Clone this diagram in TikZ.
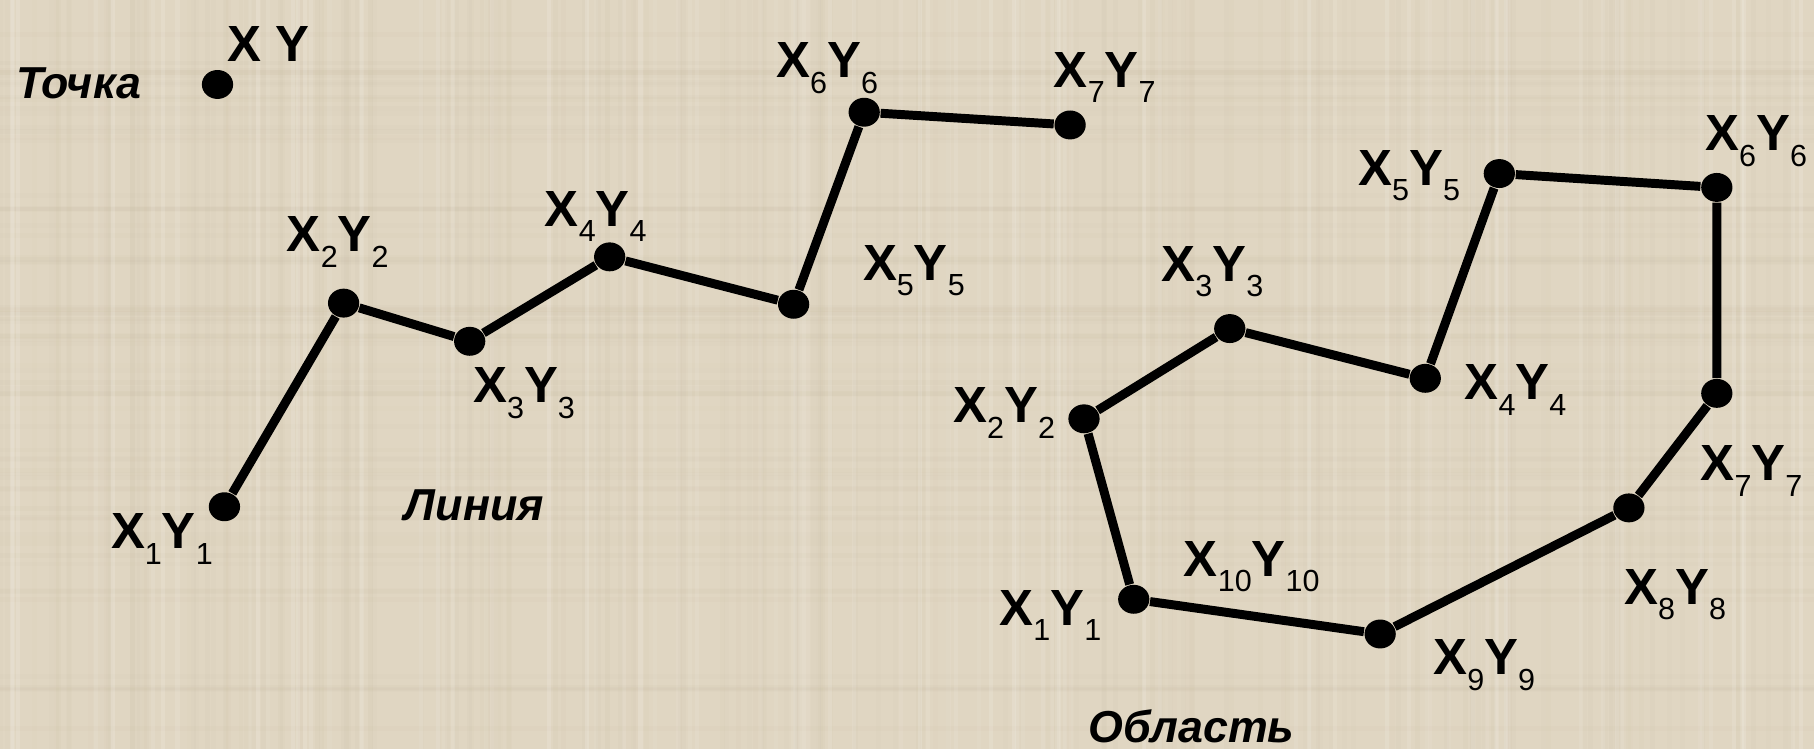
\documentclass[tikz,border=0pt]{standalone}
\usepackage{fontspec}
\usetikzlibrary{shapes.geometric}
\setmainfont{Liberation Sans}
\newcommand{\sbx}[1]{\raisebox{-3.8pt}{\fontsize{7.5}{8}\selectfont\mdseries #1}}
\newcommand{\pxy}[1]{X\sbx{#1}Y\sbx{#1}}
\definecolor{linen}{RGB}{224,214,194}
\definecolor{linendark}{RGB}{196,184,158}
\begin{document}
\begin{tikzpicture}[x=0.01cm,y=-0.01cm,
  dot/.style={ellipse,fill=black,inner sep=0pt,minimum width=0.27cm,minimum height=0.25cm},
  lab/.style={font=\fontsize{12.5}{14}\selectfont\bfseries,inner sep=0pt},
  captxt/.style={font=\fontsize{11}{13}\selectfont\bfseries\itshape,inner sep=0pt},
  segline/.style={line width=2.2pt,line join=round}]
\fill[linen] (0,0) rectangle (1568,647);
\useasboundingbox (0,0) rectangle (1568,647);
\pgfmathsetseed{7}
\foreach \i in {1,...,160}{
  \pgfmathsetmacro{\xx}{rnd*1568}
  \pgfmathsetmacro{\op}{0.03+rnd*0.06}
  \draw[linendark,opacity=\op,line width=1.2pt] (\xx,0) -- (\xx,647);
}
\foreach \i in {1,...,70}{
  \pgfmathsetmacro{\yy}{rnd*647}
  \pgfmathsetmacro{\op}{0.03+rnd*0.06}
  \draw[linendark,opacity=\op,line width=1.2pt] (0,\yy) -- (1568,\yy);
}
\foreach \i in {1,...,90}{
  \pgfmathsetmacro{\xx}{rnd*1568}
  \pgfmathsetmacro{\op}{0.05+rnd*0.1}
  \draw[white,opacity=\op,line width=1pt] (\xx,0) -- (\xx,647);
}

% Point
\node[dot] (p) at (188,73) {};
\node[lab] (plab) at (232,38) {X Y};
\node[captxt] (tochka) at (68,72) {Точка};

% Line
\node[dot] (l1) at (194,438) {};
\node[dot] (l2) at (297,262) {};
\node[dot] (l3) at (406,295) {};
\node[dot] (l4) at (527,222) {};
\node[dot] (l5) at (686,263) {};
\node[dot] (l6) at (747,97) {};
\node[dot] (l7) at (925,108) {};
\node[lab] (l1lab) at (140,466) {\pxy{1}};
\node[lab] (l2lab) at (292,209) {\pxy{2}};
\node[lab] (l3lab) at (453,340) {\pxy{3}};
\node[lab] (l4lab) at (515,187) {\pxy{4}};
\node[lab] (l5lab) at (790,234) {\pxy{5}};
\node[lab] (l6lab) at (715,59) {\pxy{6}};
\node[lab] (l7lab) at (955,67) {\pxy{7}};
\node[captxt] (linia) at (410,437) {Линия};
\draw[segline] (l1) -- (l2) -- (l3) -- (l4) -- (l5) -- (l6) -- (l7);

% Area
\node[dot] (r1) at (980,518) {};
\node[dot] (r2) at (937,362) {};
\node[dot] (r3) at (1063,284) {};
\node[dot] (r4) at (1232,327) {};
\node[dot] (r5) at (1296,150) {};
\node[dot] (r6) at (1484,162) {};
\node[dot] (r7) at (1484,340) {};
\node[dot] (r8) at (1408,439) {};
\node[dot] (r9) at (1193,548) {};
\node[lab] (r1lab) at (908,532) {\pxy{1}};
\node[lab] (r2lab) at (868,357) {\pxy{2}};
\node[lab] (r3lab) at (1048,235) {\pxy{3}};
\node[lab] (r4lab) at (1310,337) {\pxy{4}};
\node[lab] (r5lab) at (1218,152) {\pxy{5}};
\node[lab] (r6lab) at (1518,122) {\pxy{6}};
\node[lab] (r7lab) at (1514,407) {\pxy{7}};
\node[lab] (r8lab) at (1448,514) {\pxy{8}};
\node[lab] (r9lab) at (1283,575) {\pxy{9}};
\node[lab] (r10lab) at (1082,490) {\pxy{10}};
\node[captxt] (oblast) at (1030,628) {Область};
\draw[segline] (r1) -- (r2) -- (r3) -- (r4) -- (r5) -- (r6) -- (r7) -- (r8) -- (r9) -- (r1);
\end{tikzpicture}
\end{document}
